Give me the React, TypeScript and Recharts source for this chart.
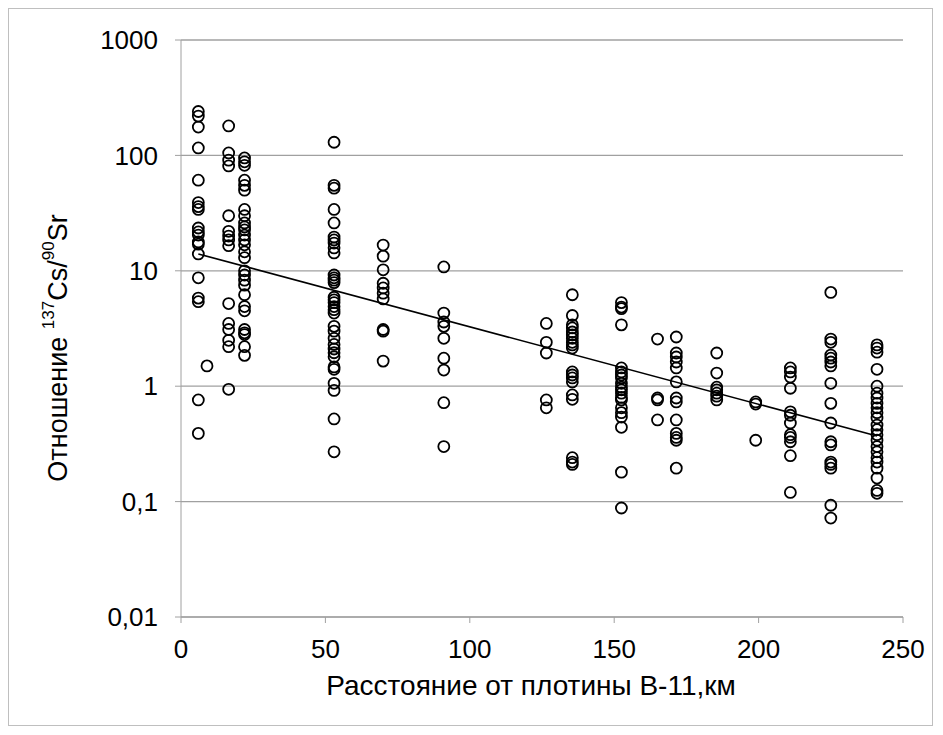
import React from "react";
import { ScatterChart, Scatter, XAxis, YAxis, CartesianGrid } from "recharts";

// distance from dam B-11, km (one column of samples per distance)
const distances = [6, 9, 16.5, 22, 53, 70, 91, 126.5, 135.5, 152.5, 165, 171.5, 185.5, 199, 211, 225, 241];

// 137Cs/90Sr ratio
const ratios: number[][] = [
  [240, 219, 176, 116, 61, 39, 36, 34, 23.5, 21.7, 20.4, 17.8, 17, 14, 8.7, 5.8, 5.4, 0.76, 0.39],
  [1.5],
  [180, 105, 91, 81, 30, 22, 20, 18.5, 16.5, 5.2, 3.5, 3.1, 2.5, 2.2, 0.94],
  [95, 88, 82, 61, 55, 50, 34, 30, 26, 24, 22.6, 20.4, 18.5, 16.8, 14.6, 13, 10, 9.2, 8.3, 7.5, 6.2, 4.9, 4.5, 3.1, 2.9, 2.8, 2.2, 1.85],
  [130, 55, 52, 34, 26, 19.6, 18.5, 17.4, 15.8, 14.3, 9.2, 8.7, 8.3, 7.9, 5.9, 5.6, 5.3, 4.9, 4.6, 4.3, 3.3, 3.0, 2.6, 2.3, 2.1, 1.95, 1.8, 1.47, 1.4, 1.06, 0.92, 0.52, 0.27],
  [16.7, 13.4, 10.2, 7.8, 7.1, 6.4, 5.7, 3.1, 3.0, 1.65],
  [10.8, 4.3, 3.6, 3.3, 2.6, 1.75, 1.38, 0.72, 0.3],
  [3.5, 2.4, 1.94, 0.76, 0.65],
  [6.2, 4.1, 3.4, 3.2, 2.95, 2.78, 2.6, 2.4, 2.28, 2.14, 1.33, 1.25, 1.18, 1.09, 0.84, 0.77, 0.24, 0.22, 0.21],
  [5.3, 4.85, 4.7, 3.4, 1.44, 1.33, 1.25, 1.18, 1.06, 0.98, 0.93, 0.87, 0.8, 0.76, 0.65, 0.59, 0.54, 0.44, 0.18, 0.088],
  [2.56, 0.79, 0.76, 0.51],
  [2.67, 1.94, 1.79, 1.62, 1.44, 1.09, 0.79, 0.73, 0.51, 0.39, 0.36, 0.34, 0.195],
  [1.94, 1.3, 0.98, 0.93, 0.87, 0.82, 0.76],
  [0.73, 0.7, 0.34],
  [1.44, 1.33, 1.2, 0.96, 0.6, 0.56, 0.48, 0.38, 0.36, 0.33, 0.25, 0.12],
  [6.5, 2.56, 2.4, 1.86, 1.75, 1.62, 1.5, 1.06, 0.71, 0.48, 0.33, 0.31, 0.22, 0.21, 0.195, 0.093, 0.072],
  [2.28, 2.14, 1.97, 1.4, 1.0, 0.87, 0.79, 0.71, 0.65, 0.59, 0.53, 0.46, 0.42, 0.38, 0.34, 0.3, 0.27, 0.24, 0.22, 0.195, 0.16, 0.125, 0.118],
];

// exponential trend line, ends
const trendX = [6, 241];
const trendY = [14, 0.37];

const xTicks = [0, 50, 100, 150, 200, 250];
const yTicks = [0.01, 0.1, 1, 10, 100, 1000];

const points = distances.flatMap((d, i) => ratios[i].map((r) => ({ x: d, y: r })));
const trend = trendX.map((x, i) => ({ x, y: trendY[i] }));

const FONT = "'Liberation Sans', Arial, sans-serif";
const GRID = "#a0a0a0";

const Ring = (props: any) => {
  const { cx, cy } = props;
  if (cx == null || cy == null) return null;
  return <circle cx={cx} cy={cy} r={5.5} fill="none" stroke="#000" strokeWidth={1.8} />;
};

const yTitle = () => (
  <text
    x={49}
    y={339}
    transform="rotate(-90 49 339)"
    textAnchor="middle"
    dominantBaseline="central"
    fontFamily={FONT}
    fontSize={27}
    fill="#000"
  >
    Отношение <tspan fontSize={17} dy={-10}>137</tspan>
    <tspan dy={10}>Cs/</tspan>
    <tspan fontSize={17} dy={-10}>90</tspan>
    <tspan dy={10}>Sr</tspan>
  </text>
);

const xTitle = () => (
  <text x={522} y={676} textAnchor="middle" dominantBaseline="central" fontFamily={FONT} fontSize={28} fill="#000">
    Расстояние от плотины В-11,км
  </text>
);

export default function App() {
  return (
    <div style={{ width: 923, height: 716, border: "1px solid #bfbfbf", background: "#fff" }}>
      <ScatterChart width={923} height={716} margin={{ top: 31, right: 29, left: 0, bottom: 0 }}>
        <CartesianGrid vertical={false} stroke={GRID} strokeWidth={1.3} />
        <XAxis
          type="number"
          dataKey="x"
          domain={[0, 250]}
          ticks={xTicks}
          height={108}
          stroke={GRID}
          tickSize={6}
          tickMargin={17}
          tick={{ fill: "#000", fontSize: 26, fontFamily: FONT }}
          label={{ content: xTitle }}
        />
        <YAxis
          type="number"
          dataKey="y"
          scale="log"
          domain={[0.01, 1000]}
          allowDataOverflow
          ticks={yTicks}
          width={172}
          stroke={GRID}
          tickSize={6}
          tickMargin={17}
          tickFormatter={(v: number) => String(v).replace(".", ",")}
          tick={{ fill: "#000", fontSize: 26, fontFamily: FONT }}
          label={{ content: yTitle }}
        />
        <Scatter data={points} shape={Ring} isAnimationActive={false} />
        <Scatter
          data={trend}
          line={{ stroke: "#000", strokeWidth: 1.6 }}
          shape={() => null}
          isAnimationActive={false}
        />
      </ScatterChart>
    </div>
  );
}
